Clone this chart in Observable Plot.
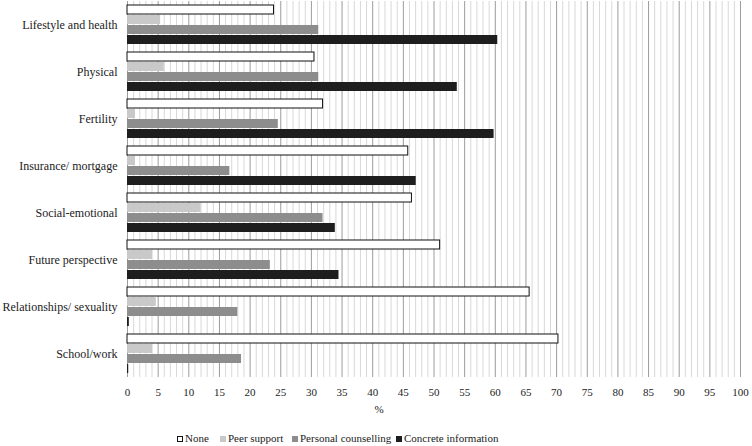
<!DOCTYPE html>
<html>
<head>
<meta charset="utf-8">
<script src="https://cdn.jsdelivr.net/npm/d3@7"></script>
<script src="https://cdn.jsdelivr.net/npm/@observablehq/plot@0.6"></script>
<style>
  html, body { margin: 0; padding: 0; background: #fff; }
  #wrap { position: relative; width: 752px; height: 446px; font-family: "Liberation Serif", "Times New Roman", serif; color: #222; }
  #chart svg { display: block; }
  #pct { position: absolute; top: 402px; left: 0; width: 758px; text-align: center; font-size: 11px; line-height: 15px; }
  .lg { position: absolute; top: 431px; font-size: 11px; line-height: 14px; white-space: nowrap; }
  .sw { display: inline-block; width: 6px; height: 6px; margin-right: 2px; vertical-align: 0px; box-sizing: border-box; }
</style>
</head>
<body>
<div id="wrap">
  <div id="chart"></div>
  <div id="pct">%</div>
  <div id="legend"></div>
</div>
<script>
const categories = ["Lifestyle and health", "Physical", "Fertility", "Insurance/ mortgage", "Social-emotional", "Future perspective", "Relationships/ sexuality", "School/work"];
const series = ["None", "Peer support", "Personal counselling", "Concrete information"];
const noneValues = [23.9, 30.5, 31.9, 45.8, 46.4, 51.0, 65.6, 70.3];
const peerValues = [5.4, 6.0, 1.3, 1.3, 12.0, 4.1, 4.7, 4.1];
const personalValues = [31.2, 31.2, 24.6, 16.7, 31.9, 23.3, 18.0, 18.6];
const concreteValues = [60.4, 53.8, 59.8, 47.1, 33.9, 34.5, 0.3, 0.2];
const xTicks = d3.range(0, 101, 5);
const minorTicks = d3.range(0, 101, 1).filter(v => v % 5 !== 0);
const colors = ["#ffffff", "#c9c9c9", "#8d8d8d", "#1e1e1e"];

const valueSets = [noneValues, peerValues, personalValues, concreteValues];
const data = [];
categories.forEach((c, i) => {
  series.forEach((s, j) => data.push({category: c, series: s, value: valueSets[j][i]}));
});

const chart = Plot.plot({
  width: 752,
  height: 402,
  marginLeft: 127,
  marginRight: 12,
  marginTop: 0,
  marginBottom: 25,
  style: {fontFamily: "Liberation Serif, Times New Roman, serif", fontSize: "11px", color: "#222", background: "#fff"},
  x: {domain: [0, 100], ticks: xTicks, tickSize: 0, tickPadding: 11, label: null},
  fy: {domain: categories, padding: 0, label: null},
  y: {domain: series, axis: null, paddingInner: 0.1, paddingOuter: 0.28},
  color: {domain: series, range: colors},
  marks: [
    Plot.ruleX(minorTicks, {stroke: "#d8d8d8", strokeWidth: 1}),
    Plot.ruleX(xTicks, {stroke: "#9c9c9c", strokeWidth: 1}),
    Plot.barX(data, {x: "value", y: "series", fy: "category", fill: "series"}),
    Plot.barX(data.filter(d => d.series === "None"), {x: "value", y: "series", fy: "category", fill: "none", stroke: "#111", strokeWidth: 1}),
    Plot.axisFy({anchor: "left", tickSize: 0, tickPadding: 10, label: null, fontSize: 12}),
    Plot.axisX({ticks: xTicks, tickSize: 0, tickPadding: 11, label: null, fontSize: 11})
  ]
});
document.getElementById("chart").appendChild(chart);

const legendLeft = [177, 220, 292, 396];
const lg = document.getElementById("legend");
series.forEach((s, j) => {
  const item = document.createElement("div");
  item.className = "lg";
  item.style.left = legendLeft[j] + "px";
  const sw = document.createElement("span");
  sw.className = "sw";
  sw.style.background = colors[j];
  if (j === 0) sw.style.border = "1px solid #111";
  item.appendChild(sw);
  item.appendChild(document.createTextNode(s));
  lg.appendChild(item);
});
</script>
</body>
</html>
